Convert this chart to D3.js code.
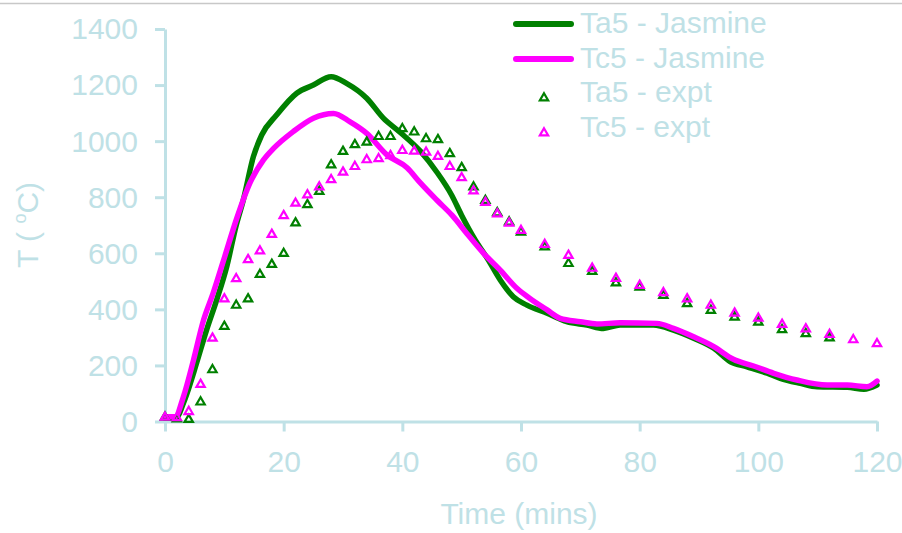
<!DOCTYPE html>
<html>
<head>
<meta charset="utf-8">
<script src="https://cdn.jsdelivr.net/npm/d3@7/dist/d3.min.js"></script>
<style>
  html, body { margin: 0; padding: 0; background: #ffffff; }
  svg { display: block; }
  text { font-family: "Liberation Sans", Arial, sans-serif; }
</style>
</head>
<body>
<svg id="chart" width="902" height="533"></svg>
<script>
// Simulated (Jasmine) temperature curves: [time in minutes, temperature in °C]
const ta5Jasmine = [
  [0, 12], [1, 12], [2, 14], [3, 60], [3.7, 100], [5.3, 207], [7, 326], [8.7, 433],
  [10.4, 552], [12, 700], [13.2, 790], [14.9, 945], [16.3, 1022], [18.8, 1093],
  [22.2, 1171], [25, 1200], [28, 1230], [30.6, 1206], [34, 1153], [36.8, 1082],
  [39.6, 1032], [43, 965], [45.8, 890], [48.3, 808], [50, 735], [52.3, 647],
  [54.5, 576], [56.5, 505], [58.7, 445], [61, 415], [64.4, 386], [67.7, 356],
  [71.1, 344], [73.9, 332], [76.7, 344], [82.3, 344], [85.7, 326], [89.1, 297],
  [92.5, 261], [95.3, 213], [98.1, 195], [101.5, 172], [103.7, 154], [107.1, 136],
  [109.9, 124], [115, 122], [117.8, 115], [120, 130]
];
const tc5Jasmine = [
  [0, 17], [1.7, 17], [3.1, 88], [4.8, 219], [6.5, 362], [8.1, 457], [9.8, 570],
  [12.1, 725], [14.3, 850], [16.6, 933], [18.3, 974], [21.6, 1034], [25, 1082],
  [28.4, 1099], [31.2, 1069], [34, 1028], [37.4, 951], [40.8, 905], [43, 852],
  [45.8, 790], [48.4, 735], [50.9, 670], [53.7, 600], [56.5, 540], [59.3, 475],
  [61.5, 439], [64.4, 398], [66.6, 368], [70, 356], [72.8, 348], [76.7, 352],
  [82.9, 350], [85.7, 332], [89.1, 302], [92.5, 267], [95.8, 222], [99.2, 198],
  [102.6, 172], [106.5, 148], [111.6, 130], [115, 130], [118.3, 124], [120, 144]
];

// Measured temperatures: [time in minutes, temperature in °C]
const ta5Expt = [
  [0, 17], [2, 11], [4, 9], [6, 71], [8, 186], [10, 341], [12, 416], [14, 439],
  [16, 526], [18, 562], [20, 601], [22, 710], [24, 775], [26, 822], [28, 917],
  [30, 965], [32, 989], [34, 998], [36, 1018], [38, 1018], [40, 1046], [42, 1034],
  [44, 1010], [46, 1007], [48, 957], [50, 907], [52, 838], [54, 790], [56, 746],
  [58, 713], [60, 677], [64, 624], [68, 565], [72, 537], [76, 496], [80, 481],
  [84, 451], [88, 422], [92, 398], [96, 374], [100, 356], [104, 329], [108, 315],
  [112, 300]
];
const tc5Expt = [
  [0, 17], [2, 15], [4, 37], [6, 134], [8, 299], [10, 439], [12, 511], [14, 579],
  [16, 610], [18, 669], [20, 736], [22, 780], [24, 810], [26, 838], [28, 864],
  [30, 891], [32, 911], [34, 935], [36, 939], [38, 950], [40, 968], [42, 966],
  [44, 962], [46, 947], [48, 911], [50, 871], [52, 824], [54, 783], [56, 742],
  [58, 709], [60, 683], [64, 633], [68, 594], [72, 548], [76, 512], [80, 487],
  [84, 461], [88, 439], [92, 416], [96, 388], [100, 370], [104, 348], [108, 332],
  [112, 312], [116, 293], [120, 279]
];

const xTicks = [0, 20, 40, 60, 80, 100, 120];
const yTicks = [0, 200, 400, 600, 800, 1000, 1200, 1400];

const seriesNames = ["Ta5 - Jasmine", "Tc5 - Jasmine", "Ta5 - expt", "Tc5 - expt"];
const GREEN = "#008000";
const MAGENTA = "#ff00ff";
const INK = "#bfe1e6";
const FONT = 30;

const svg = d3.select("#chart");

// thin frame line along the top edge
svg.append("line")
  .attr("x1", 0).attr("x2", 902).attr("y1", 3.5).attr("y2", 3.5)
  .attr("stroke", "#c8c8c8").attr("stroke-width", 1.5);

const x = d3.scaleLinear().domain([0, 120]).range([165, 877]);
const y = d3.scaleLinear().domain([0, 1400]).range([421.5, 29]);

// y axis
const yAxis = svg.append("g")
  .attr("transform", `translate(${x(0)},0)`)
  .call(d3.axisLeft(y).tickValues(yTicks).tickFormat(d3.format("d"))
    .tickSize(10).tickSizeOuter(0).tickPadding(17));
// x axis
const xAxis = svg.append("g")
  .attr("transform", `translate(0,${y(0)})`)
  .call(d3.axisBottom(x).tickValues(xTicks).tickFormat(d3.format("d"))
    .tickSize(10).tickSizeOuter(0).tickPadding(19));

[yAxis, xAxis].forEach(g => {
  g.select(".domain").attr("stroke", INK).attr("stroke-width", 3);
  g.selectAll(".tick line").attr("stroke", INK).attr("stroke-width", 3);
  g.selectAll(".tick text")
    .attr("fill", INK)
    .style("font-size", FONT + "px")
    .style("font-family", '"Liberation Sans", Arial, sans-serif');
});
yAxis.selectAll(".tick text").attr("dy", "0.33em");
xAxis.selectAll(".tick text").attr("dy", "0.71em");

// axis titles
svg.append("text")
  .attr("x", 519).attr("y", 524)
  .attr("text-anchor", "middle")
  .attr("fill", INK)
  .style("font-size", FONT + "px")
  .text("Time (mins)");

const yTitle = svg.append("text")
  .attr("transform", "translate(38,225) rotate(-90)")
  .attr("text-anchor", "middle")
  .attr("fill", INK)
  .style("font-size", FONT + "px");
yTitle.append("tspan").text("T ( ");
yTitle.append("tspan").attr("dy", -12).style("font-size", "18px").text("o");
yTitle.append("tspan").attr("dy", 12).text("C)");

// simulated curves
const line = d3.line()
  .x(d => x(d[0]))
  .y(d => y(d[1]))
  .curve(d3.curveMonotoneX);

svg.append("path").datum(ta5Jasmine)
  .attr("d", line).attr("fill", "none")
  .attr("stroke", GREEN).attr("stroke-width", 5.5)
  .attr("stroke-linejoin", "round").attr("stroke-linecap", "round");
svg.append("path").datum(tc5Jasmine)
  .attr("d", line).attr("fill", "none")
  .attr("stroke", MAGENTA).attr("stroke-width", 5.5)
  .attr("stroke-linejoin", "round").attr("stroke-linecap", "round");

// measured points as hollow triangles
const tri = d3.symbol().type(d3.symbolTriangle).size(30);
function drawMarkers(data, color) {
  svg.append("g").selectAll("path")
    .data(data)
    .join("path")
    .attr("d", tri)
    .attr("transform", d => `translate(${x(d[0])},${y(d[1]) + 0.5})`)
    .attr("fill", "none")
    .attr("stroke", color)
    .attr("stroke-width", 2.2);
}
drawMarkers(ta5Expt, GREEN);
drawMarkers(tc5Expt, MAGENTA);

// legend
const legendRows = [
  { name: seriesNames[0], color: GREEN, kind: "line", base: 33 },
  { name: seriesNames[1], color: MAGENTA, kind: "line", base: 68 },
  { name: seriesNames[2], color: GREEN, kind: "marker", base: 102 },
  { name: seriesNames[3], color: MAGENTA, kind: "marker", base: 137 }
];
const legend = svg.append("g");
legendRows.forEach(r => {
  if (r.kind === "line") {
    legend.append("line")
      .attr("x1", 516).attr("x2", 571)
      .attr("y1", r.base - 9).attr("y2", r.base - 9)
      .attr("stroke", r.color).attr("stroke-width", 6)
      .attr("stroke-linecap", "round");
  } else {
    legend.append("path")
      .attr("d", tri)
      .attr("transform", `translate(544,${r.base - 4})`)
      .attr("fill", "none").attr("stroke", r.color).attr("stroke-width", 2.2);
  }
  legend.append("text")
    .attr("x", 580).attr("y", r.base)
    .attr("fill", INK)
    .style("font-size", FONT + "px")
    .text(r.name);
});
</script>
</body>
</html>
